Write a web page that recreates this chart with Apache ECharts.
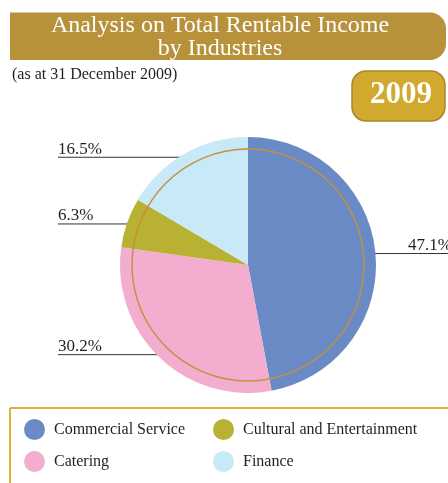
<!DOCTYPE html>
<html>
<head>
<meta charset="utf-8">
<script src="https://cdn.jsdelivr.net/npm/echarts@6/dist/echarts.min.js"></script>
<style>
html,body{margin:0;padding:0;background:#fff;}
#chart{width:448px;height:483px;}
</style>
</head>
<body>
<div id="chart"></div>
<script>
// ---- data ----
const categories = ['Commercial Service', 'Catering', 'Cultural and Entertainment', 'Finance'];
const shares = [47.1, 30.2, 6.3, 16.5];
const colors = ['#6a8ac6', '#f2adcf', '#b9b133', '#c7e9f8'];
const legendColumn1 = ['Commercial Service', 'Catering'];
const legendColumn2 = ['Cultural and Entertainment', 'Finance'];
const titleText = 'Analysis on Total Rentable Income\nby Industries';
const subtitleText = '(as at 31 December 2009)';
const yearText = '2009';

const SERIF = '"Liberation Serif", "DejaVu Serif", serif';
const pieData = categories.map((c, i) => ({ name: c, value: shares[i] }));
const colorOf = name => colors[categories.indexOf(name)];

const chart = echarts.init(document.getElementById('chart'), null, { renderer: 'canvas' });

const legendBase = {
  orient: 'vertical',
  icon: 'circle',
  itemWidth: 21,
  itemHeight: 21,
  itemGap: 11,
  top: 419,
  padding: 0,
  selectedMode: false,
  textStyle: { fontFamily: SERIF, fontSize: 16, color: '#231f20', padding: [0, 0, 0, 4] }
};

const option = {
  animation: false,
  title: [
    {
      text: titleText,
      left: 220, top: 14, textAlign: 'center', padding: 0,
      textStyle: { color: '#ffffff', fontFamily: SERIF, fontWeight: 'normal', fontSize: 24, lineHeight: 23 }
    },
    {
      text: subtitleText,
      left: 12, top: 67, padding: 0,
      textStyle: { color: '#231f20', fontFamily: SERIF, fontWeight: 'normal', fontSize: 16 }
    }
  ],
  legend: [
    Object.assign({}, legendBase, { left: 24, data: legendColumn1.map(n => ({ name: n, itemStyle: { color: colorOf(n) } })) }),
    Object.assign({}, legendBase, { left: 213, data: legendColumn2.map(n => ({ name: n, itemStyle: { color: colorOf(n) } })) })
  ],
  graphic: [
    { type: 'rect', z: 0, shape: { x: 10, y: 12.5, width: 436, height: 47.5, r: [0, 16, 16, 0] }, style: { fill: '#b8923a' } },
    { type: 'rect', z: 0, shape: { x: 352, y: 71, width: 93, height: 50, r: 14 }, style: { fill: '#d1a92e', stroke: '#a8862a', lineWidth: 1.5 } },
    { type: 'text', z: 1, style: { text: yearText, x: 401, y: 95, align: 'center', verticalAlign: 'middle', fill: '#ffffff', font: 'bold 31px ' + SERIF } },
    { type: 'rect', z: 0, shape: { x: 10, y: 408, width: 460, height: 120, r: [0, 24, 0, 0] }, style: { fill: 'none', stroke: '#d8b33c', lineWidth: 2 } }
  ],
  series: [
    {
      type: 'pie', name: 'main',
      center: [248, 265], radius: 128,
      startAngle: 90, clockwise: true,
      avoidLabelOverlap: false,
      label: { show: false }, labelLine: { show: false },
      itemStyle: { borderWidth: 0 },
      emphasis: { disabled: true },
      color: colors,
      data: pieData
    },
    {
      type: 'pie', name: 'ring', silent: true,
      center: [248, 265], radius: [115.3, 116.7],
      label: { show: false }, labelLine: { show: false },
      itemStyle: { color: '#c2923f' },
      emphasis: { disabled: true },
      data: [{ name: 'ring', value: 1 }]
    },
    {
      type: 'pie', name: 'labels', silent: true,
      center: [248, 265], radius: 116,
      startAngle: 90, clockwise: true,
      avoidLabelOverlap: false,
      itemStyle: { color: 'rgba(0,0,0,0)' },
      emphasis: { disabled: true },
      label: {
        show: true,
        alignTo: 'edge',
        edgeDistance: 58,
        fontFamily: SERIF, fontSize: 17, color: '#231f20',
        formatter: p => p.value.toFixed(1) + '%'
      },
      labelLine: { show: true, length: 8, length2: 10, lineStyle: { color: '#333333', width: 1 } },
      labelLayout: function (p) {
        const pts = p.labelLinePoints;
        if (!pts) return {};
        const r = p.labelRect;
        const isLeft = pts[2][0] < pts[0][0];
        const y = pts[1][1];
        const endX = isLeft ? r.x : r.x + r.width;
        return { y: y - 8, labelLinePoints: [pts[0], pts[1], [endX, y]] };
      },
      data: pieData.map((d, i) => i === 0 ? Object.assign({}, d, { label: { edgeDistance: -4 } }) : d)
    }
  ]
};

chart.setOption(option);
</script>
</body>
</html>
